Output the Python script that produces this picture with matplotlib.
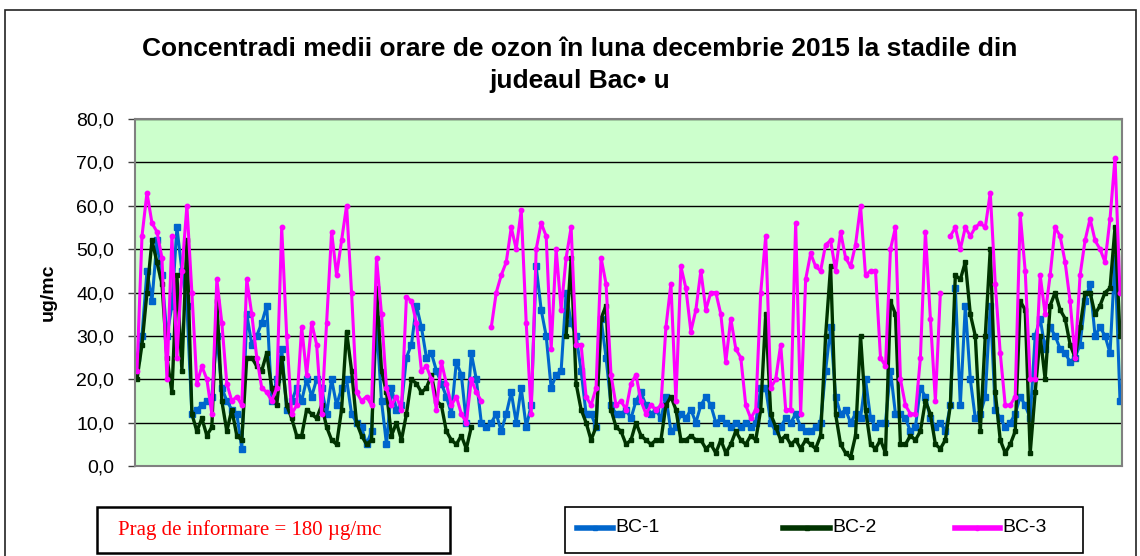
import numpy as np
import matplotlib
matplotlib.use("Agg")
import matplotlib.pyplot as plt
from matplotlib.patches import Rectangle
from matplotlib.lines import Line2D

nan = np.nan

title_text = "Concentradi medii orare de ozon în luna decembrie 2015 la stadile din\njudeaul Bac\u2022 u"
y_label = "ug/mc"
series_names = ["BC-1", "BC-2", "BC-3"]
y_ticks = [0, 10, 20, 30, 40, 50, 60, 70, 80]
note_text = "Prag de informare = 180 \u00b5g/mc"

bc1 = [
    25, 30, 45, 38, 52, 44, 30, 37, 55, 45, 37, 12, 13, 14, 15, 16, 30, 18, 15, 13, 12, 4, 35, 28, 30, 33, 37, 15, 20,
    27, 13, 15, 18, 15, 20, 16, 20, 18, 12, 20, 14, 18, 20, 12, 10, 9, 5, 8, 33, 15, 5, 18, 13, 14, 25, 28, 37,
    32, 25, 26, 22, 19, 16, 12, 24, 21, 10, 26, 20, 10, 9, 10, 12, 8, 12, 17, 10, 18, 9, 14, 46, 36, 30, 18, 21,
    22, 40, 33, 30, 22, 12, 12, 9, 34, 25, 14, 12, 12, 13, 11, 15, 17, 14, 12, 13, 11, 16, 8, 9, 12, 11, 13, 10,
    14, 16, 14, 10, 11, 10, 9, 10, 9, 10, 9, 10, 18, 18, 10, 8, 9, 11, 10, 12, 9, 8, 8, 9, 10, 22, 32, 16,
    12, 13, 10, 12, 11, 20, 11, 9, 10, 10, 22, 12, 12, 11, 8, 9, 18, 16, 11, 9, 10, 8, 14, 41, 14, 37, 20, 11,
    12, 16, 37, 13, 11, 9, 10, 12, 16, 14, 11, 30, 34, 27, 32, 30, 27, 26, 24, 25, 28, 38, 42, 30, 32, 30, 26, 48, 15,
]

bc2 = [
    20, 28, 40, 52, 47, 42, 25, 17, 44, 22, 52, 12, 8, 11, 7, 9, 38, 15, 8, 13, 7, 6, 25, 25, 23, 22, 26, 18, 14,
    25, 14, 11, 7, 7, 13, 12, 11, 14, 9, 6, 5, 13, 31, 22, 10, 7, 5, 6, 41, 22, 17, 7, 10, 6, 12, 20, 19,
    17, 18, 21, 15, 14, 8, 6, 5, 7, 4, 9, nan, nan, nan, nan, nan, nan, nan, nan, nan, nan, nan, nan, nan, nan, nan, nan, nan,
    nan, 30, 48, 19, 13, 10, 6, 9, 34, 37, 13, 9, 8, 5, 6, 10, 7, 6, 5, 6, 6, 14, 16, 13, 6, 6, 7, 6,
    6, 4, 5, 3, 6, 3, 5, 8, 6, 5, 7, 6, 13, 35, 12, 9, 6, 7, 5, 6, 4, 6, 5, 4, 7, 30, 46, 12,
    5, 3, 2, 7, 30, 13, 5, 4, 6, 3, 38, 35, 5, 5, 7, 6, 8, 15, 12, 5, 4, 6, 14, 44, 43, 47, 35, 30,
    8, 30, 50, 17, 6, 3, 5, 8, 38, 36, 3, 17, 30, 20, 37, 40, 36, 34, 28, 25, 32, 40, 40, 35, 37, 40, 41, 55, 30,
]

bc3 = [
    22, 53, 63, 56, 54, 48, 20, 53, 25, 45, 60, 40, 19, 23, 20, 12, 43, 33, 19, 15, 16, 14, 43, 35, 25, 18, 17, 15, 18,
    55, 30, 12, 14, 32, 21, 33, 28, 12, 33, 54, 44, 52, 60, 40, 17, 15, 16, 14, 48, 35, 18, 14, 16, 13, 39, 38, 33,
    22, 23, 20, 13, 24, 19, 14, 16, 12, 10, 20, 17, 15, nan, 32, 40, 44, 47, 55, 50, 59, 33, 12, 50, 56, 53, 27, 50,
    36, 48, 55, 28, 28, 16, 14, 18, 48, 42, 21, 14, 15, 13, 19, 21, 15, 12, 14, 13, 14, 32, 42, 15, 46, 41, 31, 36,
    45, 36, 40, 40, 35, 24, 34, 27, 25, 14, 11, 13, 40, 53, 18, 20, 28, 13, 13, 56, 12, 43, 49, 46, 45, 51, 52, 45,
    54, 48, 46, 51, 60, 44, 45, 45, 25, 23, 50, 55, 20, 14, 12, 12, 25, 54, 34, 15, 40, nan, 53, 55, 50, 55, 53, 55,
    56, 55, 63, 42, 26, 14, 14, 16, 58, 45, 20, 20, 44, 35, 44, 55, 53, 47, 38, 25, 44, 52, 57, 52, 50, 47, 57, 71, 40,
]

assert len(bc1) == len(bc2) == len(bc3)
n = len(bc1)
x = np.arange(n)

W, H = 1140, 556
plt.rcParams["font.family"] = ["Liberation Sans", "DejaVu Sans"]
fig = plt.figure(figsize=(W / 100, H / 100), dpi=100)
fig.patch.set_facecolor("white")

# outer frame
fig.add_artist(Rectangle((5 / W, -0.05), 1131 / W, 1.05 - 10 / H, transform=fig.transFigure,
                         fill=False, edgecolor="#222222", linewidth=1.2))

ax = fig.add_axes([135 / W, 90 / H, (1122 - 135) / W, (466 - 119) / H])
ax.set_facecolor("#CCFFCC")
ax.set_xlim(-0.4, n - 1 + 0.4)
ax.set_ylim(0, 80)
ax.set_yticks(y_ticks)
ax.set_yticklabels([f"{v:.1f}".replace(".", ",") for v in y_ticks], fontsize=14)
ax.set_xticks([])
ax.yaxis.grid(True, color="black", linewidth=1.0)
ax.set_axisbelow(True)
for s in ax.spines.values():
    s.set_color("#808080")
    s.set_linewidth(1.5)
ax.tick_params(axis="y", length=5, width=1, color="#404040", pad=10)
ax.set_ylabel(y_label, fontsize=14, fontweight="bold", labelpad=14)

colors = ["#0066CC", "#003300", "#FF00FF"]
ax.plot(x, bc1, color=colors[0], linewidth=2.2, marker="s", markersize=5, label=series_names[0])
ax.plot(x, bc2, color=colors[1], linewidth=2.4, marker="s", markersize=3, label=series_names[1])
ax.plot(x, bc3, color=colors[2], linewidth=2.2, marker="o", markersize=3.2, label=series_names[2])

fig.text(580 / W, 1 - 65 / H, title_text, ha="center", va="center", fontsize=19,
         fontweight="bold", linespacing=1.45)

# note box
fig.add_artist(Rectangle((97 / W, 3 / H), (450 - 97) / W, (49 - 3) / H, transform=fig.transFigure,
                         fill=False, edgecolor="black", linewidth=1.8))
fig.text(118 / W, 1 - 530 / H, note_text, color="red", fontsize=15,
         family=["Liberation Serif", "DejaVu Serif"], ha="left", va="center")

# legend box drawn in figure coordinates
fig.add_artist(Rectangle((565 / W, 3 / H), (1083 - 565) / W, (49 - 3) / H, transform=fig.transFigure,
                         fill=False, edgecolor="black", linewidth=1.2))
leg_line = [(577, 613), (783, 830), (955, 1000)]
leg_y = 1 - 528 / H
for (x0, x1), c, m, name in zip(leg_line, colors, ["s", "s", "o"], series_names):
    fig.add_artist(Line2D([x0 / W, x1 / W], [leg_y, leg_y], transform=fig.transFigure,
                          color=c, linewidth=4))
    fig.add_artist(Line2D([(x0 + x1) / 2 / W], [leg_y], transform=fig.transFigure,
                          color=c, marker=m, markersize=3, linestyle="none"))
    fig.text((x1 + 2) / W, leg_y, name, fontsize=14, ha="left", va="center")

fig.savefig("out.png", dpi=100)
